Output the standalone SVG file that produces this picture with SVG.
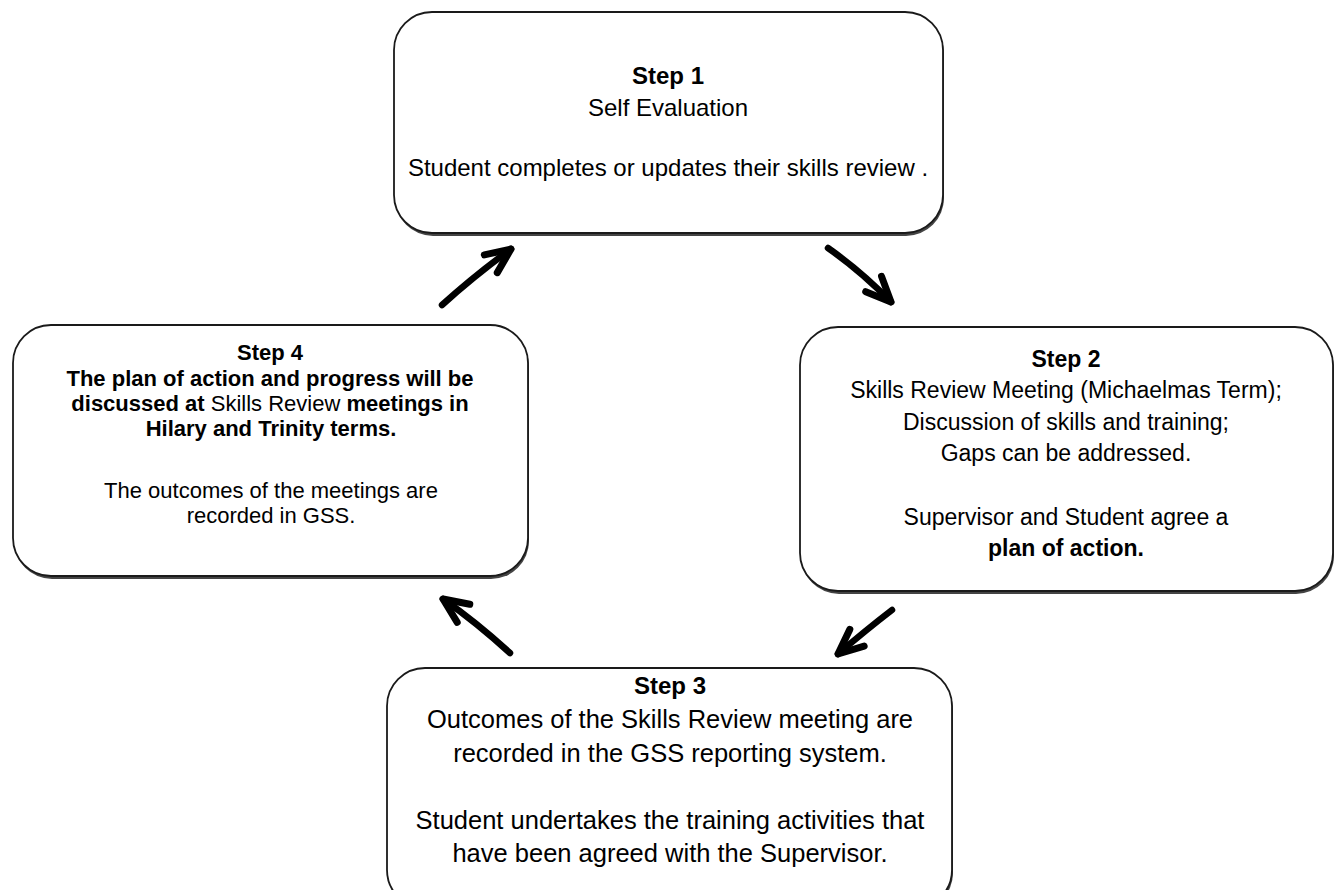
<svg xmlns="http://www.w3.org/2000/svg" width="1339" height="890" viewBox="0 0 1339 890">
<defs>
<style>
.box{fill:#fff;stroke:#1a1a1a;stroke-width:1.8}
.shadow{fill:#444}
text{font-family:"Liberation Sans",Arial,sans-serif;fill:#000;text-anchor:middle}
.s1{font-size:24px}
.s2{font-size:23px}
.s3{font-size:25.5px}
.s4{font-size:22px}
.b{font-weight:bold}
.arrow{fill:none;stroke:#000;stroke-width:6.5;stroke-linecap:round}
</style>
<marker id="head" markerUnits="userSpaceOnUse" markerWidth="44" markerHeight="44" viewBox="-32 -22 44 44" refX="0" refY="0" orient="auto">
<path d="M -25 -11 L 0 0 L -25 11" fill="none" stroke="#000" stroke-width="7" stroke-linecap="round" stroke-linejoin="round"/>
</marker>
</defs>
<rect width="1339" height="890" fill="#fff"/>

<g id="step1" class="s1">
<rect class="shadow" x="395" y="15" width="549" height="221" rx="38"/>
<rect class="box" x="394" y="12" width="549" height="221" rx="38"/>
<text class="b" x="668" y="84">Step 1</text>
<text x="668" y="116">Self Evaluation</text>
<text x="668" y="176">Student completes or updates their skills review .</text>
</g>

<g id="step2" class="s2">
<rect class="shadow" x="801" y="330" width="533" height="264" rx="38"/>
<rect class="box" x="800" y="327" width="533" height="264" rx="38"/>
<text class="b" x="1066" y="367">Step 2</text>
<text x="1066" y="398">Skills Review Meeting (Michaelmas Term);</text>
<text x="1066" y="430">Discussion of skills and training;</text>
<text x="1066" y="461">Gaps can be addressed.</text>
<text x="1066" y="525">Supervisor and Student agree a</text>
<text class="b" x="1066" y="556">plan of action.</text>
</g>

<g id="step3" class="s3">
<rect class="shadow" x="388" y="671" width="565" height="240" rx="38"/>
<rect class="box" x="387" y="668" width="565" height="240" rx="38"/>
<text class="b" x="670" y="694" style="font-size:24px">Step 3</text>
<text x="670" y="728">Outcomes of the Skills Review meeting are</text>
<text x="670" y="762">recorded in the GSS reporting system.</text>
<text x="670" y="829">Student undertakes the training activities that</text>
<text x="670" y="862">have been agreed with the Supervisor.</text>
</g>

<g id="step4" class="s4">
<rect class="shadow" x="14" y="328" width="515" height="251" rx="38"/>
<rect class="box" x="13" y="325" width="515" height="251" rx="38"/>
<text class="b" x="270" y="360">Step 4</text>
<text class="b" x="270" y="386">The plan of action and progress will be</text>
<text x="270" y="411"><tspan class="b">discussed at </tspan>Skills Review <tspan class="b">meetings in</tspan></text>
<text class="b" x="271" y="436">Hilary and Trinity terms.</text>
<text x="271" y="498">The outcomes of the meetings are</text>
<text x="271" y="523">recorded in GSS.</text>
</g>

<g id="connectors">
<path class="arrow" d="M 442 305 Q 474 276 511 249" marker-end="url(#head)"/>
<path class="arrow" d="M 828 248 Q 862 272 891 302" marker-end="url(#head)"/>
<path class="arrow" d="M 892 610 Q 866 630 838 654" marker-end="url(#head)"/>
<path class="arrow" d="M 510 653 Q 476 622 443 599" marker-end="url(#head)"/>
</g>
</svg>
